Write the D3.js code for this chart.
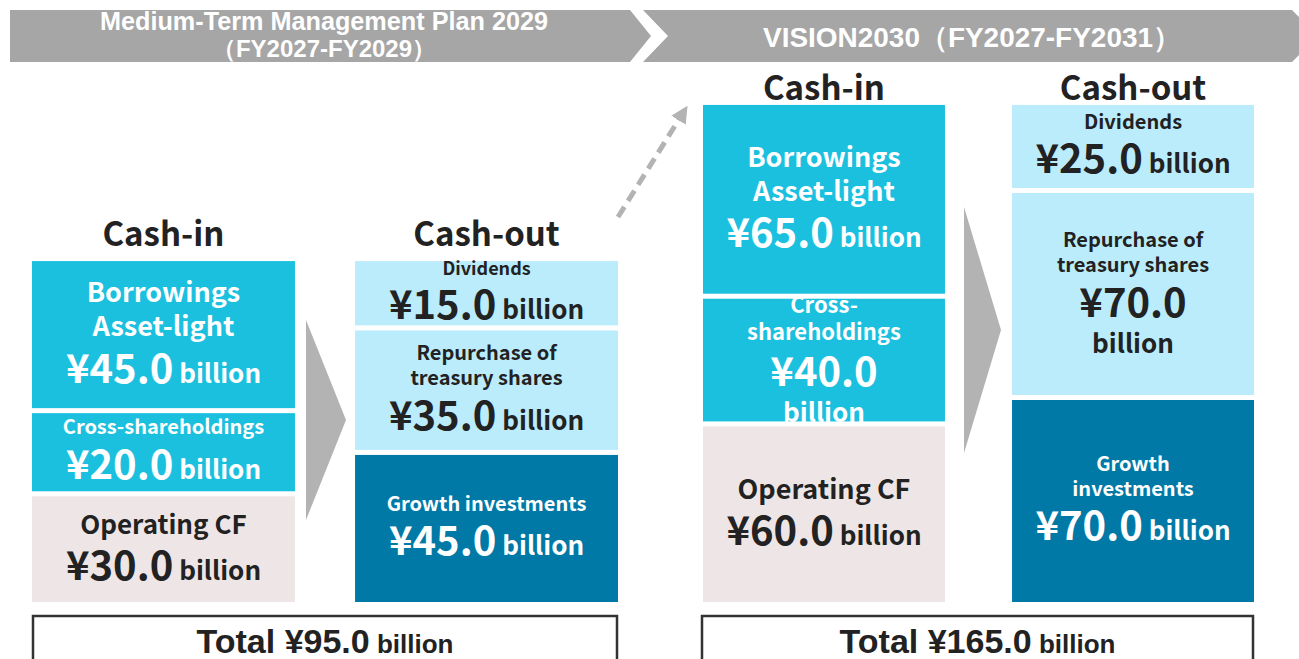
<!DOCTYPE html>
<html>
<head>
<meta charset="utf-8">
<script src="https://cdn.jsdelivr.net/npm/d3@7"></script>
<style>
body { margin: 0; background: #fff; }
svg { display: block; }
</style>
</head>
<body>
<script>
// ---- data ----
var PLAN_TITLES = [['Medium-Term Management Plan 2029', '（FY2027-FY2029）'], ['VISION2030（FY2027-FY2031）']]
var SIDES = ['Cash-in', 'Cash-out']
var CASH_IN_KEYS = ['operating', 'cross', 'borrowings']
var CASH_OUT_KEYS = ['growth', 'repurchase', 'dividends']
var MTP_IN_LABELS = [['Operating CF'], ['Cross-shareholdings'], ['Borrowings', 'Asset-light']]
var MTP_OUT_LABELS = [['Growth investments'], ['Repurchase of', 'treasury shares'], ['Dividends']]
var V2030_IN_LABELS = [['Operating CF'], ['Cross-', 'shareholdings'], ['Borrowings', 'Asset-light']]
var V2030_OUT_LABELS = [['Growth', 'investments'], ['Repurchase of', 'treasury shares'], ['Dividends']]
var MTP_IN_VALUES = [30, 20, 45]
var MTP_OUT_VALUES = [45, 35, 15]
var V2030_IN_VALUES = [60, 40, 65]
var V2030_OUT_VALUES = [70, 70, 25]
var TOTALS = [95, 165]
var UNIT = 'billion'

// ---- styles / layout ----
var W = 1299, H = 659
var BOTTOM = 602
var GAP = 5
var DARK = '#222'
var GREY = '#a6a6a6'
var ARROW_GREY = '#b3b3b3'
var BLOCK_FONT = '"Noto Sans CJK JP", "Noto Sans", sans-serif'
var NARROW_FONT = '"Liberation Sans Narrow", "Liberation Sans", sans-serif'

var COLORS = {
  operating: '#eee6e6', cross: '#1cc0df', borrowings: '#1cc0df',
  growth: '#0079a6', repurchase: '#bbecfc', dividends: '#bbecfc'
}
var TEXT_COLORS = {
  operating: DARK, cross: '#fff', borrowings: '#fff',
  growth: '#fff', repurchase: DARK, dividends: DARK
}

// each panel has its own block scale: a base height plus a part proportional to the value
var PANELS = [
  {
    range: [32, 618], pad: 0.186, titleGap: 15,
    heights: [23, 216],
    arrow: [306, 346, 320, 520],
    labelSize: {operating: 26, cross: 20, borrowings: 27, growth: 20, repurchase: 20, dividends: 18},
    wrapUnit: {},
    totalBox: [33, 617]
  },
  {
    range: [703, 1254], pad: 0.217, titleGap: 5,
    heights: [17, 202],
    arrow: [964, 1001, 207, 453],
    labelSize: {operating: 27, cross: 22, borrowings: 27, growth: 20, repurchase: 20, dividends: 20},
    wrapUnit: {cross: true, repurchase: true},
    totalBox: [702, 1253]
  }
]

var stacks = [
  [
    {side: SIDES[0], keys: CASH_IN_KEYS, labels: MTP_IN_LABELS, values: MTP_IN_VALUES},
    {side: SIDES[1], keys: CASH_OUT_KEYS, labels: MTP_OUT_LABELS, values: MTP_OUT_VALUES}
  ],
  [
    {side: SIDES[0], keys: CASH_IN_KEYS, labels: V2030_IN_LABELS, values: V2030_IN_VALUES},
    {side: SIDES[1], keys: CASH_OUT_KEYS, labels: V2030_OUT_LABELS, values: V2030_OUT_VALUES}
  ]
]

function yen(v){ return '¥' + d3.format('.1f')(v) }

var svg = d3.select('body').append('svg').attr('width', W).attr('height', H)

// ---- banners ----
function drawBanners(){
  var left = [[10, 10], [630, 10], [651, 36], [630, 62], [10, 62]]
  var right = [[643, 10], [1292, 10], [1318, 36], [1292, 62], [643, 62], [668, 36]]
  svg.selectAll('path.banner')
    .data([left, right])
    .enter()
    .append('path')
    .attr('class', 'banner')
    .attr('d', function(d){ return d3.line()(d) + 'Z' })
    .attr('fill', GREY)

  var t1 = svg.append('text')
    .attr('font-family', NARROW_FONT).attr('font-weight', 'bold')
    .attr('font-size', 25).attr('fill', '#fff')
  t1.append('tspan').attr('x', 100).attr('y', 30)
    .attr('textLength', 448).attr('lengthAdjust', 'spacingAndGlyphs')
    .text(PLAN_TITLES[0][0])
  svg.append('text')
    .attr('font-family', NARROW_FONT).attr('font-weight', 'bold')
    .attr('font-size', 24).attr('fill', '#fff').attr('text-anchor', 'middle')
    .attr('x', 324).attr('y', 57)
    .text(PLAN_TITLES[0][1])

  svg.append('text')
    .attr('font-family', NARROW_FONT).attr('font-weight', 'bold')
    .attr('font-size', 28).attr('fill', '#fff')
    .attr('x', 763).attr('y', 47)
    .attr('textLength', 418).attr('lengthAdjust', 'spacingAndGlyphs')
    .text(PLAN_TITLES[1][0])
}

// text lines inside a block, centred vertically
function blockLines(labels, value, size, wrap){
  var lines = labels.map(function(l){ return {label: l, size: size} })
  if(wrap){
    lines.push({value: yen(value), size: 40})
    lines.push({unit: UNIT, size: 26})
  }else{
    lines.push({value: yen(value), unit: UNIT, size: 40})
  }
  return lines
}

function drawPanel(panel, pi){
  var x = d3.scaleBand().domain(SIDES).range(panel.range).paddingInner(panel.pad).paddingOuter(0)
  var h = d3.scaleLinear().domain([0, 70]).range(panel.heights)

  stacks[pi].forEach(function(stack){
    var y = BOTTOM
    var blocks = stack.values.map(function(v, i){
      var hh = h(v)
      var b = {key: stack.keys[i], value: v, labels: stack.labels[i], y: y - hh, h: hh}
      y = y - hh - GAP
      return b
    })
    var top = blocks[blocks.length - 1].y

    var g = svg.append('g')
    g.selectAll('rect')
      .data(blocks)
      .enter()
      .append('rect')
      .attr('x', x(stack.side))
      .attr('width', x.bandwidth())
      .attr('y', function(d){ return d.y })
      .attr('height', function(d){ return d.h })
      .attr('fill', function(d){ return COLORS[d.key] })

    blocks.forEach(function(b){
      var lines = blockLines(b.labels, b.value, panel.labelSize[b.key], panel.wrapUnit[b.key])
      var total = d3.sum(lines, function(l){ return l.size * 1.25 })
      var cy = b.y + b.h / 2 - total / 2
      var cx = x(stack.side) + x.bandwidth() / 2
      lines.forEach(function(l){
        var mid = cy + l.size * 0.625
        cy += l.size * 1.25
        var t = g.append('text')
          .attr('x', cx).attr('y', mid + l.size * 0.36)
          .attr('text-anchor', 'middle')
          .attr('font-family', BLOCK_FONT).attr('font-weight', 'bold')
          .attr('fill', TEXT_COLORS[b.key])
        if(l.label){
          t.attr('font-size', l.size).text(l.label)
        }else{
          if(l.value) t.append('tspan').attr('font-size', 40).text(l.value)
          if(l.unit) t.append('tspan').attr('font-size', 26).text((l.value ? ' ' : '') + l.unit)
        }
      })
    })

    g.append('text')
      .attr('x', x(stack.side) + x.bandwidth() / 2)
      .attr('y', top - panel.titleGap)
      .attr('text-anchor', 'middle')
      .attr('font-family', BLOCK_FONT).attr('font-weight', 'bold')
      .attr('font-size', 33).attr('fill', DARK)
      .text(stack.side)
  })

  // big arrow between the stacks
  var a = panel.arrow
  svg.append('path')
    .attr('d', d3.line()([[a[0], a[2]], [a[1], (a[2] + a[3]) / 2], [a[0], a[3]]]) + 'Z')
    .attr('fill', ARROW_GREY)

  // total box
  var tb = panel.totalBox
  svg.append('rect')
    .attr('x', tb[0]).attr('y', 616)
    .attr('width', tb[1] - tb[0]).attr('height', 60)
    .attr('fill', 'none').attr('stroke', '#333').attr('stroke-width', 2.5)
  var tt = svg.append('text')
    .attr('x', (tb[0] + tb[1]) / 2).attr('y', 653)
    .attr('text-anchor', 'middle')
    .attr('font-family', NARROW_FONT).attr('font-weight', 'bold')
    .attr('fill', DARK)
  tt.append('tspan').attr('font-size', 34).text('Total ' + yen(TOTALS[pi]))
  tt.append('tspan').attr('font-size', 26).text(' ' + UNIT)
}

function drawDashedArrow(){
  svg.append('defs').append('marker')
    .attr('id', 'head')
    .attr('viewBox', '0 0 10 10')
    .attr('refX', 5).attr('refY', 5)
    .attr('markerWidth', 3.4).attr('markerHeight', 3.4)
    .attr('orient', 'auto')
    .append('path').attr('d', 'M0,0L10,5L0,10Z').attr('fill', ARROW_GREY)

  svg.append('line')
    .attr('x1', 618).attr('y1', 217)
    .attr('x2', 683).attr('y2', 113)
    .attr('stroke', ARROW_GREY).attr('stroke-width', 5)
    .attr('stroke-dasharray', '12,7')
    .attr('marker-end', 'url(#head)')
}

drawBanners()
PANELS.forEach(drawPanel)
drawDashedArrow()
</script>
</body>
</html>
